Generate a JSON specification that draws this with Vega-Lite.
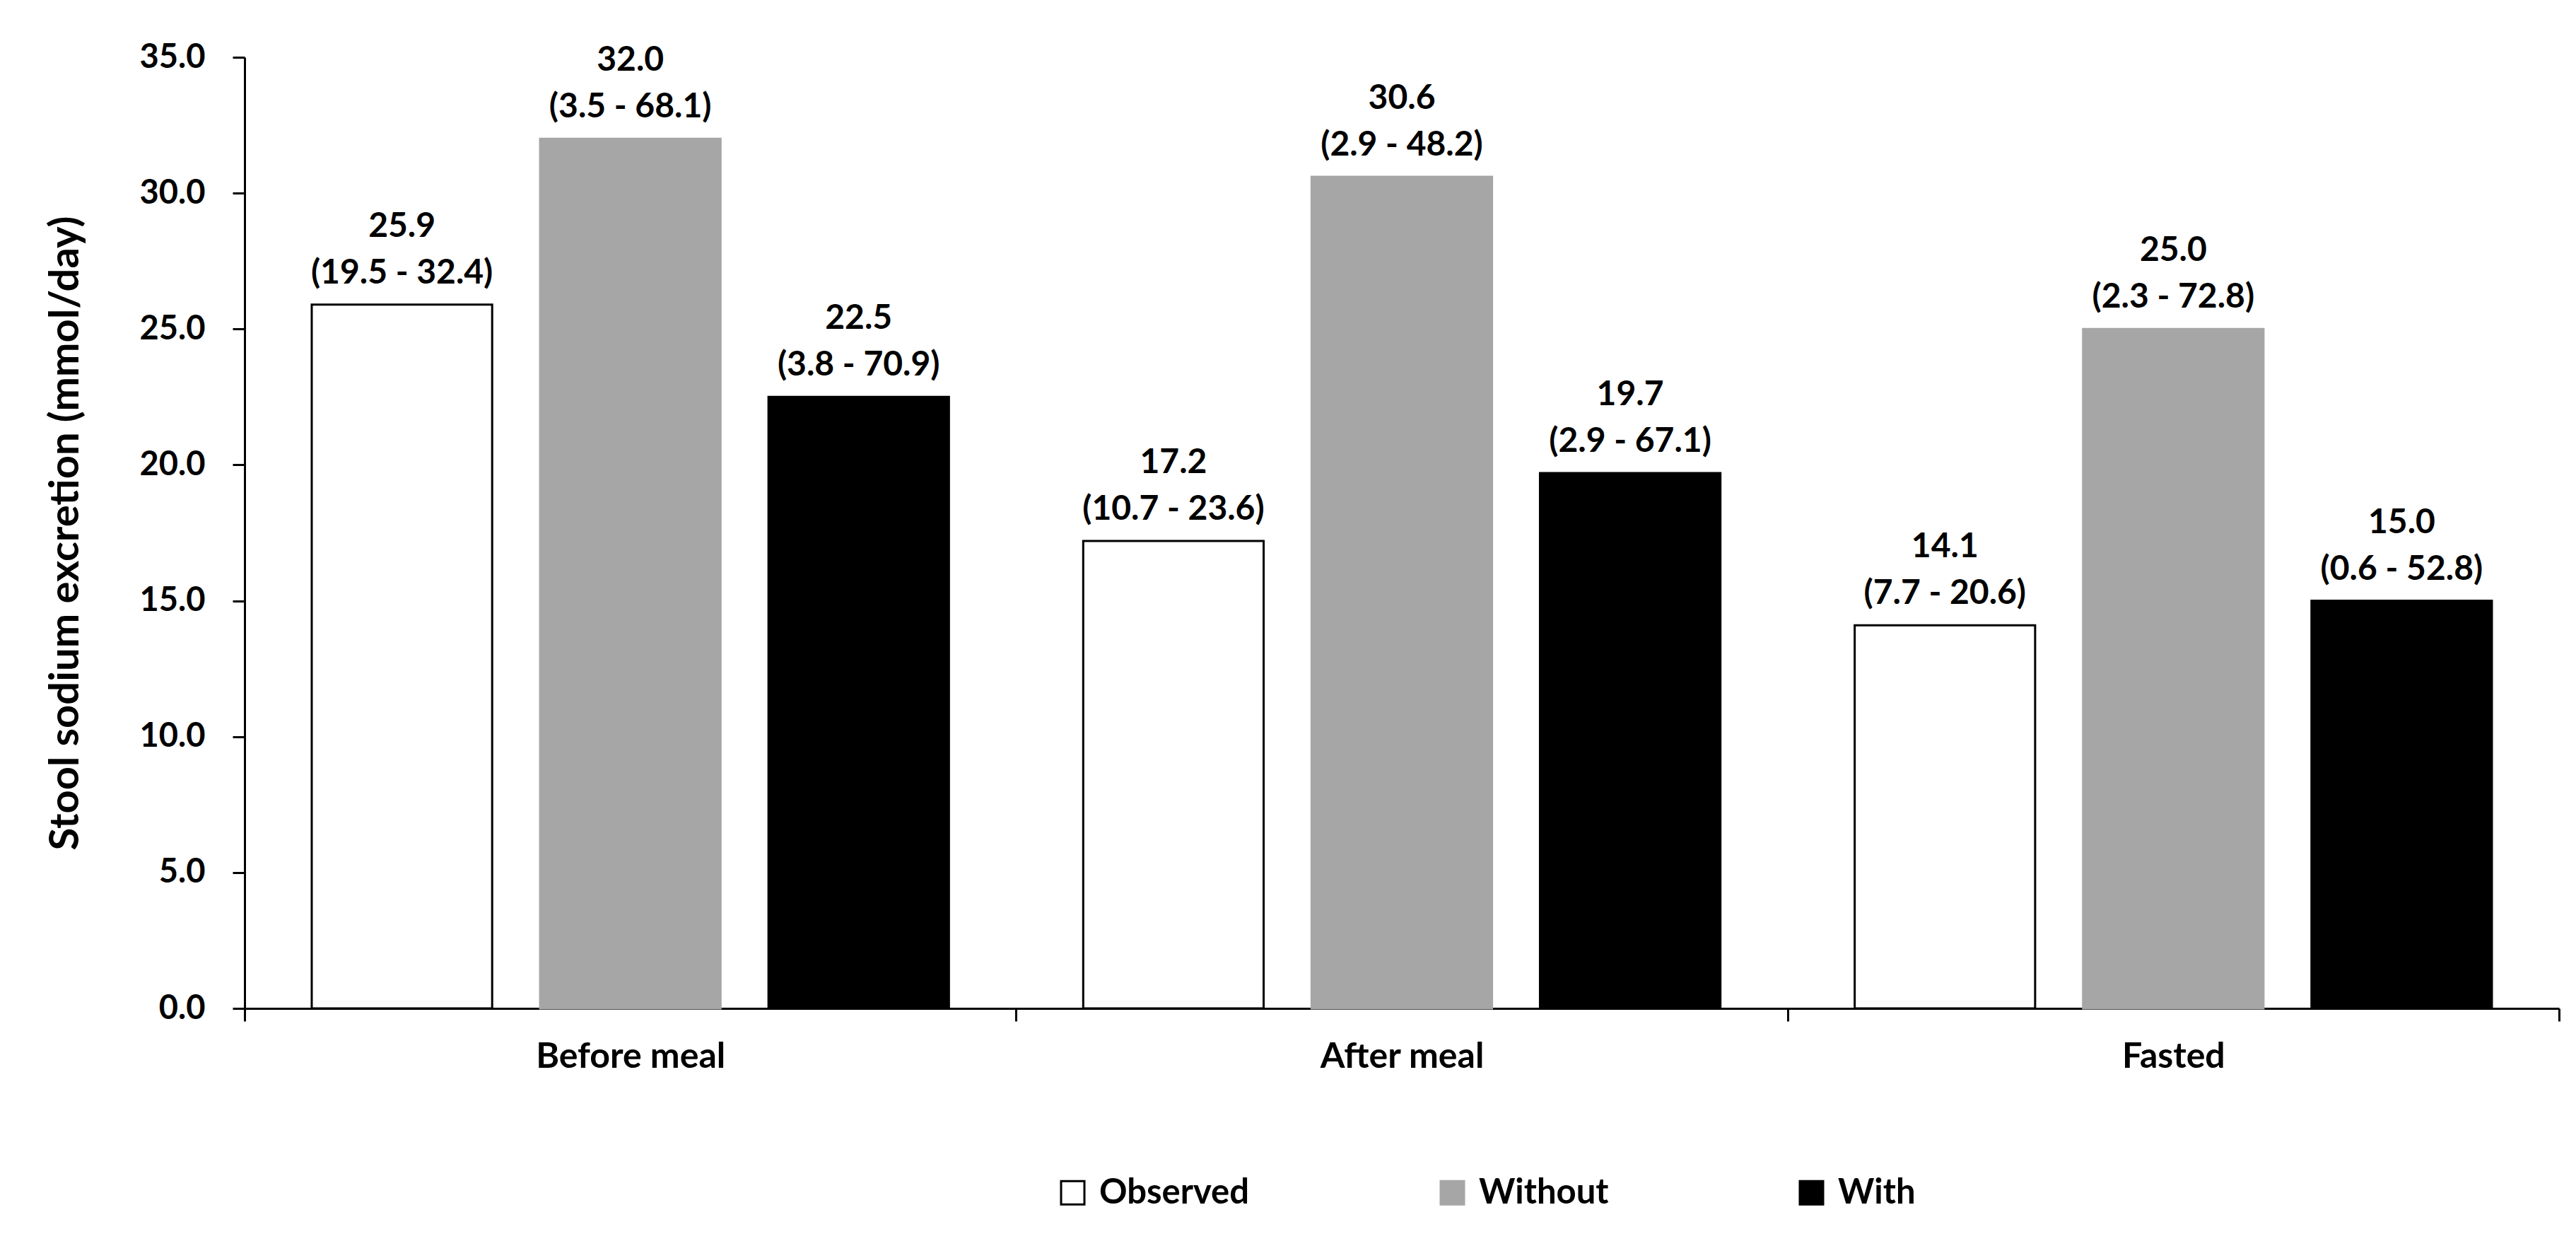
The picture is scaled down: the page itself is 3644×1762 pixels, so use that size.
{
  "$schema": "https://vega.github.io/schema/vega-lite/v6.json",
  "autosize": "none",
  "width": 3274,
  "height": 1345,
  "padding": {"left": 346, "top": 81, "right": 24, "bottom": 336},
  "background": "white",
  "config": {
    "view": {"stroke": null},
    "font": "Lato",
    "axis": {"labelFont": "Lato", "titleFont": "Lato", "labelColor": "black", "titleColor": "black", "domainColor": "black", "tickColor": "black", "labelFontWeight": "bold", "titleFontWeight": "bold", "grid": false, "domainWidth": 3, "tickWidth": 3, "labelLimit": 1000},
    "legend": {"orient": "none", "legendX": 1147, "legendY": 1581, "direction": "horizontal", "columnPadding": 262, "symbolType": "square", "symbolSize": 1089, "labelFont": "Lato", "labelFontSize": 49, "labelFontWeight": "bold", "labelColor": "black", "labelOffset": 13, "symbolStrokeWidth": 3, "labelLimit": 1000}
  },
  "data": {"values": [
    {"period": "Before meal", "series": "Observed", "value": 25.9, "ci": "(19.5 - 32.4)"},
    {"period": "Before meal", "series": "Without", "value": 32.0, "ci": "(3.5 - 68.1)"},
    {"period": "Before meal", "series": "With", "value": 22.5, "ci": "(3.8 - 70.9)"},
    {"period": "After meal", "series": "Observed", "value": 17.2, "ci": "(10.7 - 23.6)"},
    {"period": "After meal", "series": "Without", "value": 30.6, "ci": "(2.9 - 48.2)"},
    {"period": "After meal", "series": "With", "value": 19.7, "ci": "(2.9 - 67.1)"},
    {"period": "Fasted", "series": "Observed", "value": 14.1, "ci": "(7.7 - 20.6)"},
    {"period": "Fasted", "series": "Without", "value": 25.0, "ci": "(2.3 - 72.8)"},
    {"period": "Fasted", "series": "With", "value": 15.0, "ci": "(0.6 - 52.8)"}
  ]},
  "encoding": {
    "x": {"field": "period", "type": "nominal", "sort": ["Before meal", "After meal", "Fasted"],
      "scale": {"paddingInner": 0, "paddingOuter": 0},
      "axis": {"title": null, "labelAngle": 0, "labelFontSize": 50, "tickBand": "extent", "tickSize": 18, "labelPadding": 25, "labelLimit": 1000}},
    "xOffset": {"field": "series", "type": "nominal", "sort": ["Observed", "Without", "With"],
      "scale": {"paddingInner": 0.21, "paddingOuter": 0.294}},
    "y": {"field": "value", "type": "quantitative",
      "scale": {"domain": [0, 35], "nice": false},
      "axis": {"title": "Stool sodium excretion (mmol/day)", "titleFontSize": 58, "titlePadding": 75, "values": [0, 5, 10, 15, 20, 25, 30, 35], "format": ".1f", "labelFontSize": 47, "tickSize": 17, "labelPadding": 39}}
  },
  "layer": [
    {
      "mark": {"type": "bar", "strokeWidth": 3},
      "encoding": {
        "fill": {"field": "series", "type": "nominal", "scale": {"domain": ["Observed", "Without", "With"], "range": ["white", "#a6a6a6", "black"]}, "legend": {"title": null}},
        "stroke": {"field": "series", "type": "nominal", "scale": {"domain": ["Observed", "Without", "With"], "range": ["black", "#a6a6a6", "black"]}, "legend": {"title": null}}
      }
    },
    {
      "mark": {"type": "text", "baseline": "alphabetic", "dy": -30, "fontSize": 48, "fontWeight": "bold", "color": "black"},
      "encoding": {"text": {"field": "ci", "type": "nominal"}}
    },
    {
      "mark": {"type": "text", "baseline": "alphabetic", "dy": -96, "fontSize": 48, "fontWeight": "bold", "color": "black"},
      "encoding": {"text": {"field": "value", "type": "quantitative", "format": ".1f"}}
    }
  ]
}
